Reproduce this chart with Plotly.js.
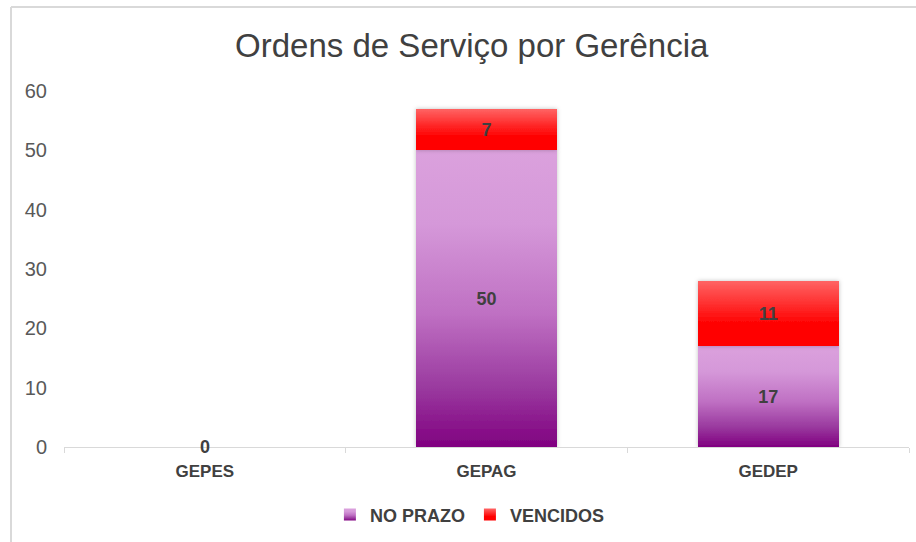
<!DOCTYPE html>
<html>
<head>
<meta charset="utf-8">
<script src="https://cdn.plot.ly/plotly-3.0.1.min.js"></script>
<style>
  html, body { margin: 0; padding: 0; background: #ffffff; }
  #chart { width: 916px; height: 542px; }
</style>
</head>
<body>
<div id="chart"></div>
<script>
// ---- data ----
const categories = ['GEPES', 'GEPAG', 'GEDEP'];
const noPrazo = [0, 50, 17];
const vencidos = [null, 7, 11];
const seriesNames = ['NO PRAZO', 'VENCIDOS'];
const chartTitle = 'Ordens de Serviço por Gerência';
const yTicks = [0, 10, 20, 30, 40, 50, 60];

const FONT = '"Liberation Sans", Arial, sans-serif';
const labelFont = { family: FONT, size: 18, color: '#404040', weight: 'bold' };

const traces = [
  {
    type: 'bar', name: seriesNames[0], x: categories, y: noPrazo,
    marker: { color: '#c37ac6', line: { width: 0 } },
    text: noPrazo.map(v => (v === null || v === 0) ? '' : String(v)),
    textposition: 'inside', insidetextanchor: 'middle', constraintext: 'none',
    textfont: labelFont, hoverinfo: 'none'
  },
  {
    type: 'bar', name: seriesNames[1], x: categories, y: vencidos,
    marker: { color: '#ff3a3a', line: { width: 0 } },
    text: vencidos.map(v => (v === null || v === 0) ? '' : String(v)),
    textposition: 'inside', insidetextanchor: 'middle', constraintext: 'none',
    textfont: labelFont, hoverinfo: 'none'
  }
];

// zero-height bars: label drawn at the value itself (Plotly hides inside text of empty bars)
const zeroLabels = [];
categories.forEach((c, i) => {
  if (noPrazo[i] === 0 && (vencidos[i] === null || vencidos[i] === 0)) {
    zeroLabels.push({
      x: c, y: noPrazo[i], xref: 'x', yref: 'y', text: String(noPrazo[i]),
      showarrow: false, xanchor: 'center', yanchor: 'middle', font: labelFont
    });
  }
});

const frameColor = '#d9d9d9';
const layout = {
  width: 916, height: 542,
  margin: { l: 64, r: 7, t: 91, b: 95, autoexpand: false },
  paper_bgcolor: '#ffffff', plot_bgcolor: '#ffffff',
  barmode: 'stack', bargap: 0.5,
  title: {
    text: chartTitle,
    font: { family: FONT, size: 33, color: '#404040' },
    xref: 'container', x: 0.515, xanchor: 'center', y: 0.917, yanchor: 'middle'
  },
  xaxis: {
    showline: true, linecolor: '#d9d9d9', linewidth: 1,
    ticks: 'outside', tickson: 'boundaries', ticklen: 5, tickcolor: '#d9d9d9',
    ticklabelstandoff: 9,
    tickfont: { family: FONT, size: 17, color: '#404040', weight: 'bold' },
    showgrid: false, zeroline: false
  },
  yaxis: {
    range: [0, 60], tickvals: yTicks, showgrid: false, zeroline: false,
    showline: false, ticks: '', ticklabelstandoff: 16,
    tickfont: { family: FONT, size: 20, color: '#595959' }
  },
  showlegend: true,
  legend: {
    orientation: 'h', traceorder: 'normal',
    xref: 'container', yref: 'container',
    x: 0.513, xanchor: 'center', y: 0.05, yanchor: 'middle',
    font: { family: FONT, size: 18, color: '#404040', weight: 'bold' },
    itemclick: false, itemdoubleclick: false
  },
  annotations: zeroLabels,
  shapes: [
    { type: 'line', xref: 'paper', yref: 'paper', x0: -0.0627, x1: -0.0627, y0: -0.27, y1: 1.236,
      line: { color: frameColor, width: 2 } },
    { type: 'line', xref: 'paper', yref: 'paper', x0: -0.0627, x1: 1.01, y0: 1.236, y1: 1.236,
      line: { color: frameColor, width: 2 } }
  ]
};

Plotly.newPlot('chart', traces, layout, { staticPlot: true }).then(gd => {
  const svg = gd.querySelector('.main-svg');
  const ns = 'http://www.w3.org/2000/svg';
  let defs = svg.querySelector('defs');
  if (!defs) { defs = document.createElementNS(ns, 'defs'); svg.insertBefore(defs, svg.firstChild); }
  function grad(id, stops) {
    const g = document.createElementNS(ns, 'linearGradient');
    g.setAttribute('id', id);
    g.setAttribute('x1', '0'); g.setAttribute('y1', '0');
    g.setAttribute('x2', '0'); g.setAttribute('y2', '1');
    stops.forEach(([o, c]) => {
      const s = document.createElementNS(ns, 'stop');
      s.setAttribute('offset', o); s.setAttribute('stop-color', c);
      g.appendChild(s);
    });
    defs.appendChild(g);
  }
  grad('gradNP', [[0, '#dba1dd'], [0.25, '#d598d9'], [0.55, '#bf70c3'], [0.8, '#9a3a9f'], [1, '#800080']]);
  grad('gradV', [[0, '#ff6464'], [0.6, '#ff0a0a'], [0.66, '#ff0000'], [1, '#ff0000']]);
  const f = document.createElementNS(ns, 'filter');
  f.setAttribute('id', 'barShadow');
  f.setAttribute('x', '-20%'); f.setAttribute('y', '-20%');
  f.setAttribute('width', '140%'); f.setAttribute('height', '140%');
  const ds = document.createElementNS(ns, 'feDropShadow');
  ds.setAttribute('dx', '0'); ds.setAttribute('dy', '0');
  ds.setAttribute('stdDeviation', '2'); ds.setAttribute('flood-color', '#000');
  ds.setAttribute('flood-opacity', '0.25');
  f.appendChild(ds); defs.appendChild(f);

  const gradByName = {};
  gradByName[seriesNames[0]] = 'gradNP';
  gradByName[seriesNames[1]] = 'gradV';
  gd.querySelectorAll('.barlayer .trace.bars').forEach((tr, i) => {
    tr.querySelectorAll('.point path').forEach(p => {
      p.style.fill = 'url(#' + (i === 0 ? 'gradNP' : 'gradV') + ')';
      p.setAttribute('filter', 'url(#barShadow)');
    });
  });
  gd.querySelectorAll('.legend .traces').forEach(tr => {
    const t = tr.querySelector('.legendtext');
    const id = t ? gradByName[t.textContent] : null;
    if (!id) return;
    tr.querySelectorAll('.legendpoints path').forEach(p => {
      p.style.fill = 'url(#' + id + ')';
    });
  });
});
</script>
</body>
</html>
